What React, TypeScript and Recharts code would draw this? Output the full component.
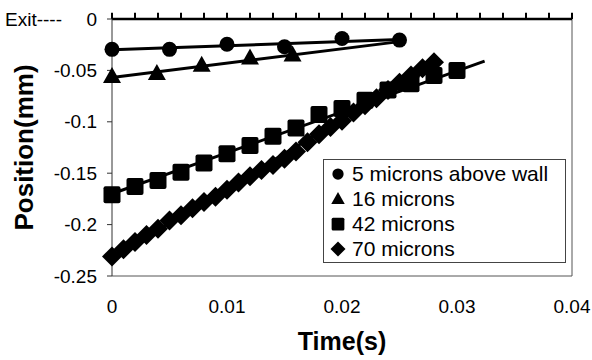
import React from 'react';
import { ScatterChart, Scatter, XAxis, YAxis, ReferenceLine, Legend, Label } from 'recharts';

// 5 microns above wall
const time5 = [0, 0.005, 0.01, 0.015, 0.02, 0.025];
const pos5 = [-0.0295, -0.0295, -0.0245, -0.027, -0.019, -0.0205];
const fitTime5 = [0, 0.025];
const fitPos5 = [-0.03, -0.02];

// 16 microns
const time16 = [0, 0.0039, 0.0078, 0.012, 0.0157];
const pos16 = [-0.056, -0.053, -0.045, -0.038, -0.035];
const fitTime16 = [0, 0.025];
const fitPos16 = [-0.057, -0.022];

// 42 microns
const time42 = [0, 0.002, 0.004, 0.006, 0.008, 0.01, 0.012, 0.014, 0.016, 0.018, 0.02, 0.022, 0.024, 0.026, 0.028, 0.03];
const pos42 = [-0.171, -0.163, -0.157, -0.149, -0.14, -0.131, -0.123, -0.114, -0.106, -0.093, -0.087, -0.079, -0.069, -0.063, -0.055, -0.05];
const fitTime42 = [0, 0.0324];
const fitPos42 = [-0.17, -0.041];

// 70 microns
const time70 = [
  0, 0.001, 0.002, 0.003, 0.004, 0.005, 0.006, 0.007, 0.008, 0.009, 0.01, 0.011, 0.012, 0.013, 0.014,
  0.015, 0.016, 0.017, 0.018, 0.019, 0.02, 0.021, 0.022, 0.023, 0.024, 0.025, 0.026, 0.027, 0.028,
];
const pos70 = [
  -0.231, -0.224, -0.217, -0.21, -0.204, -0.196, -0.191, -0.184, -0.178, -0.173, -0.166, -0.159, -0.153, -0.147, -0.142,
  -0.136, -0.129, -0.12, -0.112, -0.105, -0.099, -0.091, -0.084, -0.077, -0.069, -0.062, -0.055, -0.048, -0.042,
];
const fitTime70 = [0, 0.0285];
const fitPos70 = [-0.232, -0.04];

const seriesNames = ['5 microns above wall', '16 microns', '42 microns', '70 microns'];
const xTicks = [0, 0.01, 0.02, 0.03, 0.04];
const topTicks = [
  0, 0.002, 0.004, 0.006, 0.008, 0.01, 0.012, 0.014, 0.016, 0.018, 0.02,
  0.022, 0.024, 0.026, 0.028, 0.03, 0.032, 0.034, 0.036, 0.038, 0.04,
];
const yTicks = [-0.25, -0.2, -0.15, -0.1, -0.05, 0];

const toPoints = (xs: number[], ys: number[]) => xs.map((t, i) => ({ t, pos: ys[i] }));

const FONT = "'Liberation Sans', Arial, sans-serif";
// height of the small tick marks above the "Exit" line, in data units (~6px)
const TOP_TICK_LEN = 0.006;

// marker shapes
const CircleMark = ({ cx, cy }: any) => <circle cx={cx} cy={cy} r={7.5} fill="#000" />;
const TriangleMark = ({ cx, cy }: any) => (
  <polygon points={`${cx},${cy - 9.5} ${cx + 9},${cy + 6.5} ${cx - 9},${cy + 6.5}`} fill="#000" />
);
const SquareMark = ({ cx, cy }: any) => (
  <rect x={cx - 8.5} y={cy - 8.5} width={17} height={17} rx={2} fill="#000" />
);
const DiamondMark = ({ cx, cy }: any) => (
  <polygon points={`${cx},${cy - 10} ${cx + 10},${cy} ${cx},${cy + 10} ${cx - 10},${cy}`} fill="#000" />
);
const NoMark = () => <g />;

const markers = [CircleMark, TriangleMark, SquareMark, DiamondMark];

const YTick = ({ x, y, payload }: any) => (
  <g fontFamily={FONT} fontSize={19} fill="#000">
    {payload.value === 0 && (
      <text x={5} y={y} dy="0.35em" textAnchor="start">Exit----</text>
    )}
    <text x={x} y={y} dy="0.35em" textAnchor="end">{String(payload.value)}</text>
  </g>
);

const XTick = ({ x, y, payload }: any) => (
  <text x={x} y={y + 37} textAnchor="middle" fontFamily={FONT} fontSize={19} fill="#000">
    {String(payload.value)}
  </text>
);

const LegendBox = () => (
  <div
    style={{
      border: '1px solid #444',
      background: '#fff',
      fontFamily: FONT,
      fontSize: 21,
      color: '#000',
      padding: '1px 0 1px 0',
      boxSizing: 'border-box',
    }}
  >
    {seriesNames.map((name, i) => {
      const Mark = markers[i];
      return (
        <div key={name} style={{ display: 'flex', alignItems: 'center', height: 25 }}>
          <svg width={24} height={22} style={{ flex: 'none', marginLeft: 4 }}>
            <g transform="translate(10,11) scale(0.75) translate(-10,-11)">
              <Mark cx={10} cy={11} />
            </g>
          </svg>
          <span style={{ whiteSpace: 'nowrap' }}>{name}</span>
        </div>
      );
    })}
  </div>
);

export default function App() {
  const lineStyle = { stroke: '#000', strokeWidth: 3 };
  return (
    <div style={{ position: 'absolute', left: 0, top: 0, background: '#fff' }}>
      <ScatterChart width={592} height={360} margin={{ top: 9, right: 20, left: 0, bottom: 0 }}>
        <XAxis
          xAxisId="bottom"
          dataKey="t"
          type="number"
          domain={[0, 0.04]}
          ticks={xTicks}
          interval={0}
          height={84}
          tickSize={0}
          tickMargin={0}
          tickLine={false}
          axisLine={{ stroke: '#555', strokeWidth: 1 }}
          tick={<XTick />}
        >
          <Label
            content={({ viewBox }: any) => (
              <text
                x={viewBox.x + viewBox.width / 2}
                y={viewBox.y + 74}
                textAnchor="middle"
                fontFamily={FONT}
                fontWeight="bold"
                fontSize={25}
                fill="#000"
              >
                Time(s)
              </text>
            )}
          />
        </XAxis>
        <XAxis
          xAxisId="top"
          orientation="top"
          dataKey="t"
          type="number"
          domain={[0, 0.04]}
          height={10}
          tick={false}
          tickLine={false}
          axisLine={{ stroke: '#000', strokeWidth: 2.5 }}
        />
        <YAxis
          dataKey="pos"
          type="number"
          domain={[-0.25, 0]}
          ticks={yTicks}
          interval={0}
          width={112}
          tickSize={5}
          tickMargin={10}
          tickLine={{ stroke: '#333' }}
          axisLine={{ stroke: '#333', strokeWidth: 1 }}
          tick={<YTick />}
        >
          <Label
            content={({ viewBox }: any) => {
              const cx = viewBox.x + 24;
              const cy = viewBox.y + viewBox.height / 2;
              return (
                <text
                  x={cx}
                  y={cy}
                  transform={`rotate(-90, ${cx}, ${cy})`}
                  textAnchor="middle"
                  dominantBaseline="central"
                  fontFamily={FONT}
                  fontWeight="bold"
                  fontSize={26}
                  fill="#000"
                >
                  Position(mm)
                </text>
              );
            }}
          />
        </YAxis>
        <ReferenceLine xAxisId="bottom" x={0.04} stroke="#555" strokeWidth={1} />

        {/* small tick marks standing on top of the Exit line */}
        {topTicks.map((t) => (
          <ReferenceLine
            key={`tt-${t}`}
            xAxisId="bottom"
            segment={[{ x: t, y: 0 }, { x: t, y: TOP_TICK_LEN }]}
            ifOverflow="visible"
            stroke="#000"
            strokeWidth={2}
          />
        ))}

        <Scatter xAxisId="bottom" data={toPoints(fitTime5, fitPos5)} line={lineStyle} shape={<NoMark />} legendType="none" isAnimationActive={false} />
        <Scatter xAxisId="bottom" data={toPoints(fitTime16, fitPos16)} line={lineStyle} shape={<NoMark />} legendType="none" isAnimationActive={false} />
        <Scatter xAxisId="bottom" data={toPoints(fitTime42, fitPos42)} line={lineStyle} shape={<NoMark />} legendType="none" isAnimationActive={false} />
        <Scatter xAxisId="bottom" data={toPoints(fitTime70, fitPos70)} line={lineStyle} shape={<NoMark />} legendType="none" isAnimationActive={false} />

        <Scatter xAxisId="bottom" name={seriesNames[0]} data={toPoints(time5, pos5)} shape={<CircleMark />} isAnimationActive={false} />
        <Scatter xAxisId="bottom" name={seriesNames[1]} data={toPoints(time16, pos16)} shape={<TriangleMark />} isAnimationActive={false} />
        <Scatter xAxisId="bottom" name={seriesNames[2]} data={toPoints(time42, pos42)} shape={<SquareMark />} isAnimationActive={false} />
        <Scatter xAxisId="bottom" name={seriesNames[3]} data={toPoints(time70, pos70)} shape={<DiamondMark />} isAnimationActive={false} />

        <Legend
          layout="vertical"
          align="center"
          verticalAlign="middle"
          content={<LegendBox />}
          wrapperStyle={{ left: 323, top: 159, width: 243, height: 103 }}
        />
      </ScatterChart>
    </div>
  );
}
